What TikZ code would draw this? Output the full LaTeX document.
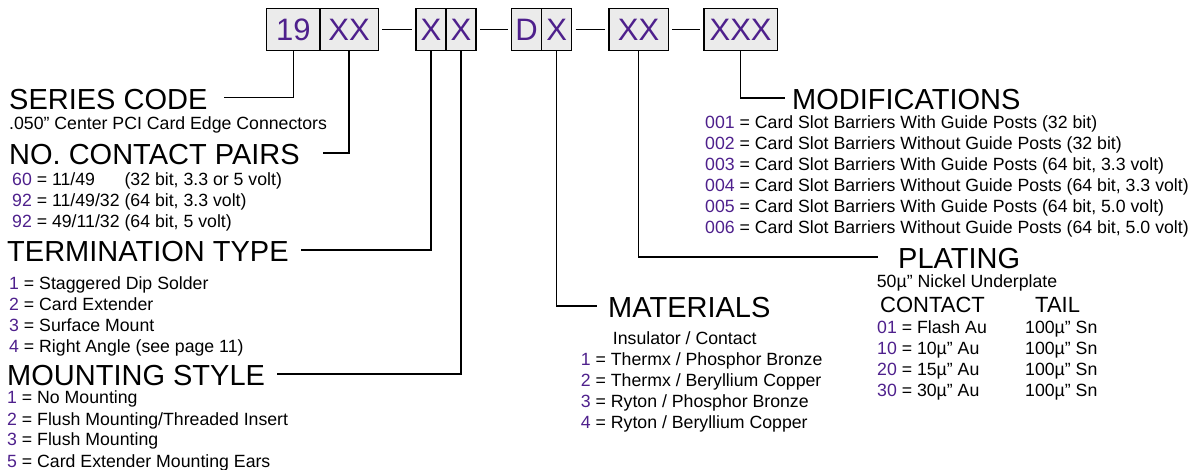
\documentclass[tikz,border=0pt]{standalone}
\usepackage{fontspec}
\setmainfont{Liberation Sans}
\usepackage{xcolor}
\usepackage{tikz}
\usetikzlibrary{positioning}

\definecolor{codepurple}{RGB}{78,32,140}
\definecolor{boxgray}{RGB}{235,235,235}
\newcommand{\opt}[1]{\textcolor{codepurple}{#1}}

\tikzset{
  codebox/.style={draw,fill=boxgray,line width=1.3pt,minimum height=42.4pt,inner sep=0pt,outer sep=0pt,
    text=codepurple,font=\fontsize{31}{31}\selectfont,text height=22.2pt,text depth=0pt},
  header/.style={anchor=base west,inner sep=0pt,font=\fontsize{29}{29}\selectfont,text height=24pt,text depth=0pt},
  items/.style={anchor=base west,inner sep=0pt,font=\fontsize{17.7}{21}\selectfont},
  leader/.style={line width=1.5pt},
}

\begin{document}
\begin{tikzpicture}[x=1pt,y=-1pt]
  \useasboundingbox (0,0) rectangle (1203,470);
  % part number boxes
  \node[codebox,minimum width=53.3pt] (b19) at (293.3,29.5) {19};
  \node[codebox,minimum width=58.3pt,right=0pt of b19] (bpairs) {XX};
  \node[codebox,minimum width=30pt,right=37.7pt of bpairs] (bterm) {X};
  \node[codebox,minimum width=30pt,right=0pt of bterm] (bmount) {X};
  \node[codebox,minimum width=30pt,right=35.7pt of bmount] (bd) {D};
  \node[codebox,minimum width=30pt,right=0pt of bd] (bmat) {X};
  \node[codebox,minimum width=59.3pt,right=37.3pt of bmat] (bplat) {XX};
  \node[codebox,minimum width=73.3pt,right=35.7pt of bplat] (bmod) {XXX};
  \draw[leader] ([xshift=4pt]bpairs.east) -- ([xshift=-4pt]bterm.west);
  \draw[leader] ([xshift=4pt]bmount.east) -- ([xshift=-4pt]bd.west);
  \draw[leader] ([xshift=4pt]bmat.east) -- ([xshift=-4pt]bplat.west);
  \draw[leader] ([xshift=4pt]bplat.east) -- ([xshift=-4pt]bmod.west);

  % left column
  \node[header] (ser) at (9,109.3) {SERIES CODE};
  \node[items] (ser-note) at (9,130) {.050” Center PCI Card Edge Connectors};
  \node[header] (pairs) at (9,165) {NO. CONTACT PAIRS};
  \node[items] (pairs-list) at (12,186) {\begin{tabular}[t]{@{}l@{\ }l@{}}
      \opt{60} = 11/49 & (32 bit, 3.3 or 5 volt)\\
      \opt{92} = 11/49/32 & (64 bit, 3.3 volt)\\
      \opt{92} = 49/11/32 & (64 bit, 5 volt)
    \end{tabular}};
  \node[header] (term) at (7,262) {TERMINATION TYPE};
  \node[items] (term-list) at (9,289.3) {\begin{tabular}[t]{@{}l@{}}
      \opt{1} = Staggered Dip Solder\\
      \opt{2} = Card Extender\\
      \opt{3} = Surface Mount\\
      \opt{4} = Right Angle (see page 11)
    \end{tabular}};
  \node[header] (mount) at (7,386) {MOUNTING STYLE};
  \node[items] (mount-list) at (7,404) {\begin{tabular}[t]{@{}l@{}}
      \opt{1} = No Mounting\\
      \opt{2} = Flush Mounting/Threaded Insert\\
      \opt{3} = Flush Mounting\\
      \opt{5} = Card Extender Mounting Ears
    \end{tabular}};

  % materials
  \node[header] (mat) at (608,318) {MATERIALS};
  \node[items] (mat-head) at (612.7,345) {Insulator / Contact};
  \node[items] (mat-list) at (580.7,366) {\begin{tabular}[t]{@{}l@{}}
      \opt{1} = Thermx / Phosphor Bronze\\
      \opt{2} = Thermx / Beryllium Copper\\
      \opt{3} = Ryton / Phosphor Bronze\\
      \opt{4} = Ryton / Beryllium Copper
    \end{tabular}};

  % plating
  \node[header] (plat) at (898,269) {PLATING};
  \node[items] (plat-note) at (876.7,288) {50µ” Nickel Underplate};
  \node[items,font=\fontsize{22}{22}\selectfont] (plat-contact) at (880,313) {CONTACT};
  \node[items,font=\fontsize{22}{22}\selectfont] (plat-tail) at (1035,313) {TAIL};
  \node[items] (plat-list) at (877,333.3) {\begin{tabular}[t]{@{}p{148pt}@{}l@{}}
      \opt{01} = Flash Au & 100µ” Sn\\
      \opt{10} = 10µ” Au & 100µ” Sn\\
      \opt{20} = 15µ” Au & 100µ” Sn\\
      \opt{30} = 30µ” Au & 100µ” Sn
    \end{tabular}};

  % modifications
  \node[header] (mods) at (792,110) {MODIFICATIONS};
  \node[items] (mods-list) at (705,128.3) {\begin{tabular}[t]{@{}l@{}}
      \opt{001} = Card Slot Barriers With Guide Posts (32 bit)\\
      \opt{002} = Card Slot Barriers Without Guide Posts (32 bit)\\
      \opt{003} = Card Slot Barriers With Guide Posts (64 bit, 3.3 volt)\\
      \opt{004} = Card Slot Barriers Without Guide Posts (64 bit, 3.3 volt)\\
      \opt{005} = Card Slot Barriers With Guide Posts (64 bit, 5.0 volt)\\
      \opt{006} = Card Slot Barriers Without Guide Posts (64 bit, 5.0 volt)
    \end{tabular}};

  % leaders
  \draw[leader] (b19.south) |- ([xshift=16pt]ser.east);
  \draw[leader] (bpairs.south) |- ([xshift=23pt]pairs.east);
  \draw[leader] (bterm.south) |- ([xshift=12pt]term.east);
  \draw[leader] (bmount.south) |- ([xshift=12pt]mount.east);
  \draw[leader] (bmat.south) |- ([xshift=-11pt]mat.west);
  \draw[leader] (bplat.south) |- ([xshift=-20pt]plat.west);
  \draw[leader] (bmod.south) |- ([xshift=-7pt]mods.west);
\end{tikzpicture}
\end{document}
